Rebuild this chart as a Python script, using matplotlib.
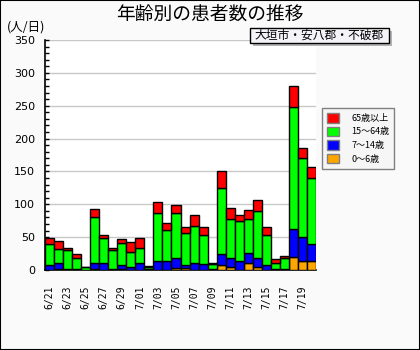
import matplotlib
matplotlib.use('Agg')
import matplotlib.pyplot as plt
from matplotlib.patches import Patch, Rectangle
from matplotlib.ticker import MultipleLocator

plt.rcParams['font.family'] = ['Noto Sans CJK JP', 'DejaVu Sans']

# daily counts by age group
dates = ['6/21', '6/22', '6/23', '6/24', '6/25', '6/26', '6/27', '6/28', '6/29', '6/30',
         '7/01', '7/02', '7/03', '7/04', '7/05', '7/06', '7/07', '7/08', '7/09', '7/10',
         '7/11', '7/12', '7/13', '7/14', '7/15', '7/16', '7/17', '7/18', '7/19', '7/20']
age_0_6 = [0, 2, 0, 0, 0, 2, 0, 0, 2, 0, 0, 0, 0, 0, 3, 3, 0, 0, 1, 7,
           5, 0, 10, 4, 0, 0, 0, 20, 13, 13]
age_7_14 = [7, 8, 2, 2, 0, 8, 10, 1, 5, 5, 10, 1, 14, 14, 15, 5, 10, 9, 1, 18,
            14, 14, 16, 14, 7, 1, 1, 42, 37, 26]
age_15_64 = [33, 22, 28, 16, 4, 71, 38, 29, 34, 23, 24, 4, 72, 47, 69, 49, 57, 44, 7, 100,
             59, 60, 51, 72, 47, 9, 17, 186, 120, 101]
age_65 = [8, 12, 4, 6, 0, 12, 5, 4, 6, 14, 14, 1, 17, 11, 12, 8, 16, 12, 1, 25,
          17, 9, 15, 16, 12, 6, 4, 32, 15, 16]

groups = [('0～6歳', age_0_6, '#ffa500'),
          ('7～14歳', age_7_14, '#0000ff'),
          ('15～64歳', age_15_64, '#00ff00'),
          ('65歳以上', age_65, '#ff0000')]

W, H = 420, 350
fig = plt.figure(figsize=(W / 100, H / 100), dpi=100)
fig.patch.set_facecolor('#fafafa')

def fx(px):
    return px / W

def fy(py):
    return 1 - py / H

ax = fig.add_axes([fx(45), fy(270), fx(271), (270 - 40) / H])
ax.set_facecolor('white')

x = list(range(len(dates)))
bottom = [0] * len(dates)
for label, vals, color in groups:
    ax.bar(x, vals, bottom=bottom, width=1.0, color=color,
           edgecolor='black', linewidth=1.0, zorder=3)
    bottom = [b + v for b, v in zip(bottom, vals)]

ax.set_xlim(-0.5, len(dates) - 0.5)
ax.set_ylim(0, 350)
ax.yaxis.set_major_locator(MultipleLocator(50))
ax.yaxis.set_minor_locator(MultipleLocator(10))
ax.grid(axis='y', which='major', color='#c8c8c8', linewidth=1.0, zorder=0)
ax.tick_params(axis='y', which='both', direction='in', length=3, width=1,
               labelsize=8, pad=7)
for spine in ['top', 'right']:
    ax.spines[spine].set_visible(False)
ax.spines['left'].set_linewidth(1.2)
ax.spines['bottom'].set_linewidth(1.2)

ax.set_xticks(x[::2])
ax.set_xticklabels(dates[::2], rotation=90, fontsize=7,
                   family='DejaVu Sans Mono')
ax.tick_params(axis='x', length=0, pad=11)
for t in ax.get_yticklabels():
    t.set_family('DejaVu Sans')

# titles
fig.text(0.5, fy(14), '年齢別の患者数の推移', ha='center', va='center', fontsize=13.5)
fig.text(fx(7), fy(27), '(人/日)', ha='left', va='center', fontsize=9)

# area label box with drop shadow
fig.add_artist(Rectangle((fx(253), fy(46)), fx(139), 15 / H, transform=fig.transFigure,
                         facecolor='#b4b4b4', edgecolor='none'))
fig.add_artist(Rectangle((fx(250), fy(43)), fx(139), 15 / H, transform=fig.transFigure,
                         facecolor='#f4f4f8', edgecolor='black', linewidth=1.0))
fig.text(fx(319.5), fy(35.5), '大垣市・安八郡・不破郡', ha='center', va='center', fontsize=8.5)

handles = [Patch(facecolor=c, edgecolor='#808080', label=l) for l, v, c in groups[::-1]]
leg = fig.legend(handles=handles, loc='upper left', bbox_to_anchor=(fx(322), fy(108)),
                 fontsize=6.5, frameon=True, fancybox=False, framealpha=1,
                 handlelength=1.3, handleheight=1.3, handletextpad=1.4,
                 labelspacing=0.4, borderpad=0.55, borderaxespad=0)
leg.get_frame().set_facecolor('#f6f6f6')
leg.get_frame().set_edgecolor('#808080')
leg.get_frame().set_linewidth(1.0)

fig.add_artist(Rectangle((0, 0), 1, 1, transform=fig.transFigure, fill=False,
                         edgecolor='black', linewidth=1.5))

fig.savefig('out.png', dpi=100, facecolor=fig.get_facecolor())
